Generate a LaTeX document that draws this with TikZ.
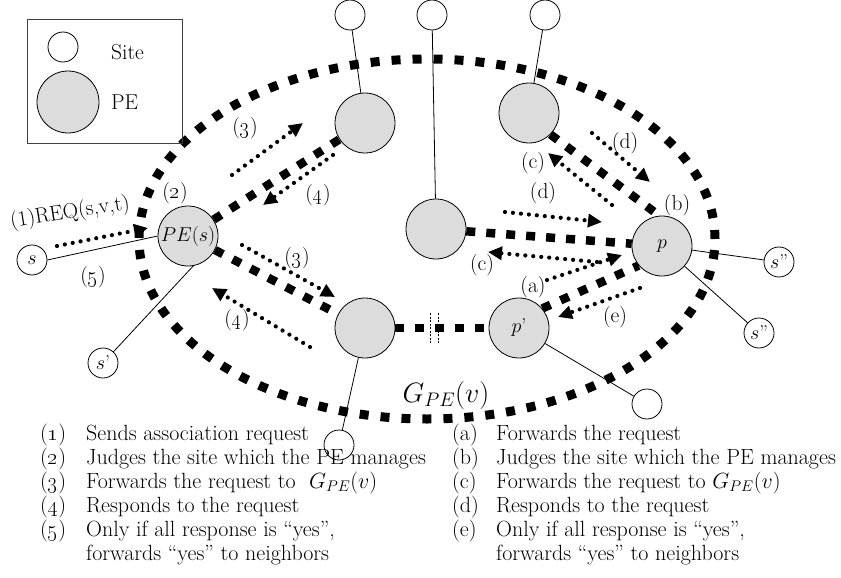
\RequirePackage{fix-cm}
\documentclass[tikz,border=0pt]{standalone}
\usetikzlibrary{arrows.meta}
\pgfdeclarelayer{back}
\pgfsetlayers{back,main}
\definecolor{pegray}{RGB}{220,220,220}
\definecolor{boxgray}{RGB}{64,64,64}
\newcommand{\osn}[1]{\oldstylenums{#1}}
\begin{document}
\begin{tikzpicture}[x=1pt,y=-1pt,
  every node/.style={font=\fontsize{21.5}{24}\selectfont, inner sep=0pt},
  pe/.style={circle, draw, fill=pegray, minimum size=60pt, line width=0.8pt, font=\fontsize{20}{24}\selectfont},
  site/.style={circle, draw, fill=white, minimum size=30pt, line width=0.8pt, font=\fontsize{20}{24}\selectfont},
  link/.style={line width=0.8pt},
  ring/.style={line width=9pt, dash pattern=on 9pt off 12pt},
  hop/.style={line width=8.5pt, dash pattern=on 9pt off 11pt},
  dotarrow/.style={line width=4.2pt, line cap=round, dash pattern=on 0pt off 8pt,
                   -{Triangle[length=14pt,width=13pt]}},
  brkmark/.style={line width=1.2pt, dash pattern=on 2pt off 1.5pt},
  item/.style={anchor=mid west, font=\fontsize{22}{24}\selectfont},
]
\useasboundingbox (0,0) rectangle (841,578);

% key box
\node[draw=boxgray, line width=1pt, minimum width=155pt, minimum height=123pt] (key) at (104.5,81.5) {};
\node[site] (keysite) at (63,47) {};
\node[pe, minimum size=62pt] (keype) at (68,102) {};
\node[anchor=west] (keysitetxt) at (111,52) {Site};
\node[anchor=west] (keypetxt) at (111,102) {PE};

% provider edges
\node[pe] (pes) at (188,236) {$PE(s)$};
\node[pe] (A) at (365,123) {};
\node[pe] (B) at (436,229) {};
\node[pe] (C) at (529,113) {};
\node[pe] (p) at (662,246) {$p$};
\node[pe] (pp) at (519,328) {$p$’};
\node[pe] (D) at (365,328) {};

% sites
\node[site] (s) at (32,260) {$s$};
\node[site] (s1) at (103,363) {$s$’};
\node[site] (t1) at (350,15) {};
\node[site] (t2) at (432,15) {};
\node[site] (t3) at (545,15) {};
\node[site] (s2) at (779,262) {$s$”};
\node[site] (s3) at (759,333) {$s$”};
\node[site] (b1) at (647,404) {};
\node[site] (b2) at (339,445) {};

\begin{pgfonlayer}{back}
  % access links
  \draw[link] (s.east) -- (pes.west);
  \draw[link] (s1) -- (pes.-80);
  \draw[link] (t1) -- (A);
  \draw[link] (t2) -- (B);
  \draw[link] (t3) -- (C);
  \draw[link] (p) -- (s2);
  \draw[link] (p) -- (s3);
  \draw[link] (pp) -- (b1);
  \draw[link] (D) -- (b2);
  % the group G_PE(v)
  \draw[ring] (427,239) ellipse [x radius=288pt, y radius=180pt];
  % hops between provider edges
  \draw[hop] (pes) -- (A);
  \draw[hop] (pes) -- (D);
  \draw[hop] (D) -- (pp);
  \draw[hop] (B) -- (p);
  \draw[hop] (C.-45) -- (p.95);
  \draw[hop] (pp.40) -- (p.220);
\end{pgfonlayer}

% broken link marker
\path (D) -- (pp) coordinate[pos=0.42] (brk);
\draw[brkmark] ([xshift=-4pt]brk) ++(0,-15) -- ++(0,30);
\draw[brkmark] ([xshift=4pt]brk) ++(0,-15) -- ++(0,30);

% message flows
\coordinate (m1s) at (57,246);  \coordinate (m1e) at (148,228);
\coordinate (m3as) at (232,175); \coordinate (m3ae) at (303,123);
\coordinate (m4as) at (333,155); \coordinate (m4ae) at (263,205);
\coordinate (m3bs) at (242,245); \coordinate (m3be) at (335,297);
\coordinate (m4bs) at (310,347); \coordinate (m4be) at (212,288);
\coordinate (mdas) at (592,133); \coordinate (mdae) at (650,182);
\coordinate (mcas) at (612,205); \coordinate (mcae) at (548,153);
\coordinate (mdbs) at (505,212); \coordinate (mdbe) at (602,222);
\coordinate (mcbs) at (597,262); \coordinate (mcbe) at (488,252);
\coordinate (mas) at (547,280);  \coordinate (mae) at (622,255);
\coordinate (mes) at (640,288);  \coordinate (mee) at (558,317);
\draw[dotarrow] (m1s) -- (m1e);
\draw[dotarrow] (m3as) -- (m3ae);
\draw[dotarrow] (m4as) -- (m4ae);
\draw[dotarrow] (m3bs) -- (m3be);
\draw[dotarrow] (m4bs) -- (m4be);
\draw[dotarrow] (mdas) -- (mdae);
\draw[dotarrow] (mcas) -- (mcae);
\draw[dotarrow] (mdbs) -- (mdbe);
\draw[dotarrow] (mcbs) -- (mcbe);
\draw[dotarrow] (mas) -- (mae);
\draw[dotarrow] (mes) -- (mee);

% step labels
\node[rotate=9] (lreq) at (70,213) {(1)REQ(s,v,t)};
\node (l5) at (93,277) {(\osn{5})};
\node (l2) at (175,193) {(\osn{2})};
\node (l3a) at (245,128) {(\osn{3})};
\node (l4a) at (318,195) {(\osn{4})};
\node (l3b) at (297,258) {(\osn{3})};
\node (l4b) at (237,320) {(\osn{4})};
\node (lda) at (625,143) {(d)};
\node (lca) at (533,163) {(c)};
\node (ldb) at (543,193) {(d)};
\node (lcb) at (482,265) {(c)};
\node (la) at (533,287) {(a)};
\node (lb) at (677,205) {(b)};
\node (le) at (615,317) {(e)};
\node[font=\fontsize{28}{34}\selectfont] (gpe) at (446,395) {$G_{PE}(v)$};

% explanation of the steps
\node[item] (n1) at (40,438) {(\osn{1})};
\node[item] (n2) at (40,462) {(\osn{2})};
\node[item] (n3) at (40,486) {(\osn{3})};
\node[item] (n4) at (40,510) {(\osn{4})};
\node[item] (n5) at (40,534) {(\osn{5})};
\node[item] (d1) at (86,438) {Sends association request};
\node[item] (d2) at (86,462) {Judges the site which the PE manages};
\node[item] (d3) at (86,486) {Forwards the request to \ $G_{PE}(v)$};
\node[item] (d4) at (86,510) {Responds to the request};
\node[item] (d5) at (86,534) {Only if all response is ``yes'',};
\node[item] (d6) at (86,558) {forwards ``yes'' to neighbors};

\node[item] (na) at (452,438) {(a)};
\node[item] (nb) at (452,462) {(b)};
\node[item] (nc) at (452,486) {(c)};
\node[item] (nd) at (452,510) {(d)};
\node[item] (ne) at (452,534) {(e)};
\node[item] (ea) at (496,438) {Forwards the request};
\node[item] (eb) at (496,462) {Judges the site which the PE manages};
\node[item] (ec) at (496,486) {Forwards the request to $G_{PE}(v)$};
\node[item] (ed) at (496,510) {Responds to the request};
\node[item] (ee) at (496,534) {Only if all response is ``yes'',};
\node[item] (ef) at (496,558) {forwards ``yes'' to neighbors};
\end{tikzpicture}
\end{document}
